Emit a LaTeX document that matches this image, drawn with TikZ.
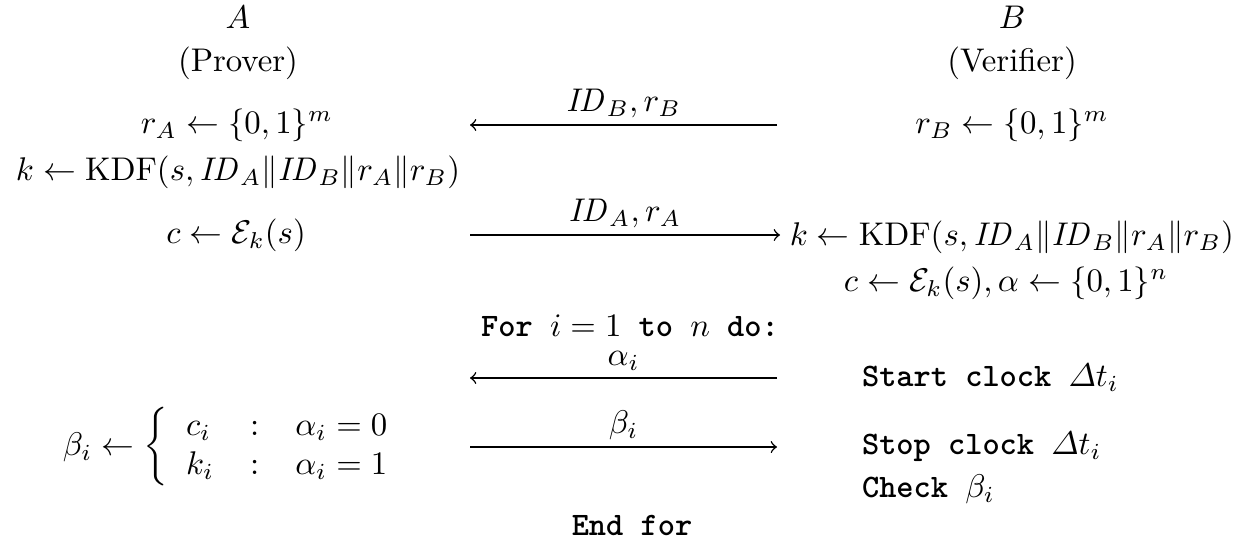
\documentclass[tikz,border=0pt]{standalone}
\usepackage{amsmath}
\tikzset{every picture/.style={line width=0.45pt}}
\tikzset{every node/.style={inner sep=1pt},
  msg/.style={-to},
  msglabel/.style={above,inner sep=2pt},
  tt/.style={font=\ttfamily\bfseries}}

\begin{document}
\begin{tikzpicture}[x=0.305pt,y=0.305pt,yscale=-1]
\useasboundingbox (0,0) rectangle (1247,542);
% Text Node
\node (hA) at (238,17) {$A$};
% Text Node
\node (hB) at (1012,17) {$B$};
% Text Node
\node (prover) at (238,63) {(Prover)};
% Text Node
\node (verifier) at (1012,63) {(Verifier)};
% Text Node
\node (rA) at (237,125) {$r_A \leftarrow \{0,1\}^m$};
% Text Node
\node (rB) at (1012,125) {$r_B \leftarrow \{0,1\}^m$};
% Text Node
\node (kA) at (238,172) {$k \leftarrow \mathrm{KDF}(s, \mathit{ID}_A \| \mathit{ID}_B \| r_A \| r_B)$};
% Text Node
\node (cA) at (236,235) {$c \leftarrow \mathcal{E}_k(s)$};
% Text Node
\node[anchor=west,inner sep=0pt] (kB) at (789,237) {$k \leftarrow \mathrm{KDF}(s, \mathit{ID}_A \| \mathit{ID}_B \| r_A \| r_B)$};
% Text Node
\node (cB) at (1006,283) {$c \leftarrow \mathcal{E}_k(s), \alpha \leftarrow \{0,1\}^n$};
% Text Node
\node[tt,inner sep=0.5pt] (loop) at (630,326) {For $i=1$ to $n$ do:};
% Text Node
\node[anchor=west,tt] (start) at (858,378) {Start clock $\varDelta t_i$};
% Text Node
\node (beta) at (236,447) {$\beta_i \leftarrow \left\{\arraycolsep=5.5pt\begin{array}{@{\;\;}lcl} c_i & : & \alpha_i = 0\\ k_i & : & \alpha_i = 1\end{array}\right.$};
% Text Node
\node[anchor=west,tt] (stop) at (858,447) {Stop clock $\varDelta t_i$};
% Text Node
\node[anchor=west,tt] (check) at (858,489) {Check $\beta_i$};
% Text Node
\node[tt] (endfor) at (632,525) {End for};

% arrow ends
\coordinate (m1r) at (777,125);
\coordinate (m1l) at (470,125);
\coordinate (m2l) at (470,235);
\coordinate (m2r) at (780,235);
\coordinate (m3r) at (777,378);
\coordinate (m3l) at (470,378);
\coordinate (m4l) at (470,447);
\coordinate (m4r) at (777,447);

%Straight Lines
\draw[msg] (m1r) -- node[msglabel] (l1) {$\mathit{ID}_B, r_B$} (m1l);
%Straight Lines
\draw[msg] (m2l) -- node[msglabel] (l2) {$\mathit{ID}_A, r_A$} (m2r);
%Straight Lines
\draw[msg] (m3r) -- node[msglabel] (l3) {$\alpha_i$} (m3l);
%Straight Lines
\draw[msg] (m4l) -- node[msglabel] (l4) {$\beta_i$} (m4r);
\end{tikzpicture}
\end{document}
